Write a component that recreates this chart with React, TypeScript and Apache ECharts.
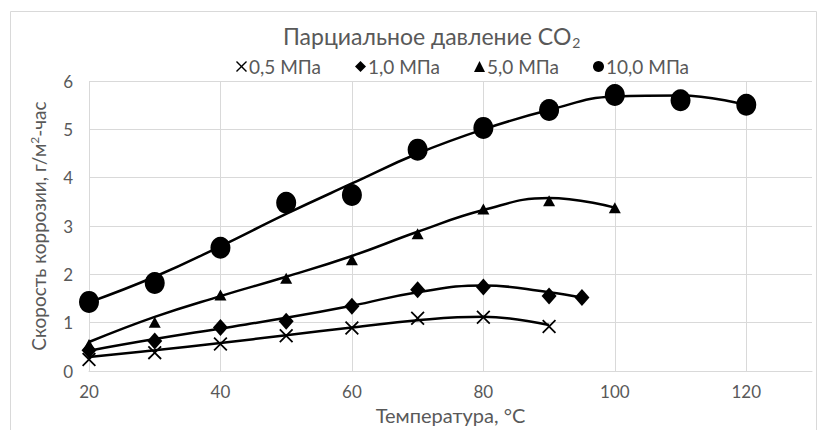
import React, { useEffect, useRef } from "react";
import * as echarts from "echarts";

const temps05 = [20, 30, 40, 50, 60, 70, 80, 90];
const mpa05 = [0.24, 0.38, 0.56, 0.73, 0.89, 1.09, 1.11, 0.92];
const trend05 = [0.29, 0.43, 0.58, 0.74, 0.9, 1.05, 1.12, 0.95];

const temps1 = [20, 30, 40, 50, 60, 70, 80, 90, 95];
const mpa1 = [0.43, 0.62, 0.9, 1.03, 1.34, 1.68, 1.74, 1.55, 1.52];
const trend1 = [0.42, 0.66, 0.88, 1.1, 1.35, 1.63, 1.77, 1.63, 1.52];

const temps5 = [20, 30, 40, 50, 60, 70, 80, 90, 100];
const mpa5 = [0.55, 1.01, 1.57, 1.92, 2.3, 2.84, 3.35, 3.52, 3.38];
const trend5 = [0.6, 1.12, 1.55, 1.95, 2.38, 2.88, 3.33, 3.58, 3.38];

const temps10 = [20, 30, 40, 50, 60, 70, 80, 90, 100, 110, 120];
const mpa10 = [1.43, 1.82, 2.55, 3.48, 3.64, 4.58, 5.03, 5.4, 5.71, 5.6, 5.51];
const trend10 = [1.42, 1.95, 2.58, 3.25, 3.88, 4.5, 5.0, 5.4, 5.68, 5.7, 5.5];

const seriesNames = ["0,5 МПа", "1,0 МПа", "5,0 МПа", "10,0 МПа"];

const FONT = "Lato, 'Noto Sans', sans-serif";
const TEXT = "#595959";
const GRID = "#d9d9d9";
const CROSS =
  "path://M0,0.9 L0.9,0 L5,4.1 L9.1,0 L10,0.9 L5.9,5 L10,9.1 L9.1,10 L5,5.9 L0.9,10 L0,9.1 L4.1,5 Z";

const pairs = (xs: number[], ys: number[]) => xs.map((x, i) => [x, ys[i]]);

export default function App() {
  const ref = useRef<HTMLDivElement>(null);
  useEffect(() => {
    if (!ref.current) return;
    const chart = echarts.init(ref.current, undefined, { renderer: "svg" });
    const lineStyle = { color: "#000", width: 2.5 };
    const trendSeries = (data: number[][]) => ({
      type: "line",
      data,
      smooth: 0.45,
      showSymbol: false,
      symbol: "none",
      lineStyle,
      silent: true,
      z: 2,
    });
    const markerSeries = (name: string, data: number[][], symbol: string, size: any) => ({
      type: "scatter",
      name,
      data,
      symbol,
      symbolSize: size,
      itemStyle: { color: "#000", opacity: 1 },
      z: 3,
    });
    chart.setOption({
      animation: false,
      textStyle: { fontFamily: FONT },
      graphic: [
        {
          type: "rect",
          shape: { x: 10.5, y: 11.5, width: 806, height: 430 },
          style: { fill: "none", stroke: GRID, lineWidth: 1 },
          silent: true,
        },
      ],
      title: {
        text: "{a|Парциальное давление CO}{s|2}",
        left: 283,
        top: 23,
        padding: 0,
        textStyle: {
          fontWeight: "normal",
          rich: {
            a: { fontSize: 23, color: TEXT, fontFamily: FONT, fontWeight: "normal" },
            s: { fontSize: 14, color: TEXT, fontFamily: FONT, fontWeight: "normal", padding: [12, 0, 0, 1] },
          },
        },
      },
      legend: {
        left: 231,
        top: 52,
        itemGap: 34,
        itemWidth: 11,
        itemHeight: 11,
        textStyle: { color: TEXT, fontSize: 19, fontFamily: FONT, padding: [0, 0, 0, -3] },
        data: seriesNames,
      },
      grid: { left: 89, right: 15, top: 81, bottom: 59 },
      xAxis: {
        type: "value",
        min: 20,
        max: 130,
        interval: 20,
        name: "Температура, °C",
        nameLocation: "middle",
        nameGap: 33,
        nameTextStyle: { color: TEXT, fontSize: 20, fontFamily: FONT },
        axisLine: { show: true, lineStyle: { color: GRID, width: 1 } },
        axisTick: { show: false },
        axisLabel: { color: TEXT, fontSize: 17, margin: 12, showMaxLabel: false, fontFamily: FONT },
        splitLine: {
          show: true,
          lineStyle: {
            color: [GRID, GRID, GRID, GRID, GRID, GRID, "rgba(0,0,0,0)"],
            width: 1,
          },
        },
      },
      yAxis: {
        type: "value",
        min: 0,
        max: 6,
        interval: 1,
        name: "{a|Скорость коррозии, г/м}{s|2}{a|-час}",
        nameLocation: "middle",
        nameGap: 40,
        nameTextStyle: {
          rich: {
            a: { fontSize: 19, color: TEXT, fontFamily: FONT },
            s: { fontSize: 12, color: TEXT, fontFamily: FONT, padding: [0, 0, 9, 0] },
          },
        },
        axisLine: { show: false },
        axisTick: { show: false },
        axisLabel: { color: TEXT, fontSize: 17, margin: 16, fontFamily: FONT },
        splitLine: { show: true, lineStyle: { color: GRID, width: 1 } },
      },
      series: [
        trendSeries(pairs(temps05, trend05)),
        trendSeries(pairs(temps1, trend1)),
        trendSeries(pairs(temps5, trend5)),
        trendSeries(pairs(temps10, trend10)),
        markerSeries(seriesNames[0], pairs(temps05, mpa05), CROSS, 14),
        markerSeries(seriesNames[1], pairs(temps1, mpa1), "diamond", [15, 17]),
        markerSeries(seriesNames[2], pairs(temps5, mpa5), "triangle", [12, 11]),
        markerSeries(seriesNames[3], pairs(temps10, mpa10), "circle", [20, 22]),
      ],
    });
    return () => chart.dispose();
  }, []);
  return (
    <div
      ref={ref}
      style={{ position: "fixed", left: 0, top: 0, width: 827, height: 430, background: "#fff" }}
    />
  );
}
